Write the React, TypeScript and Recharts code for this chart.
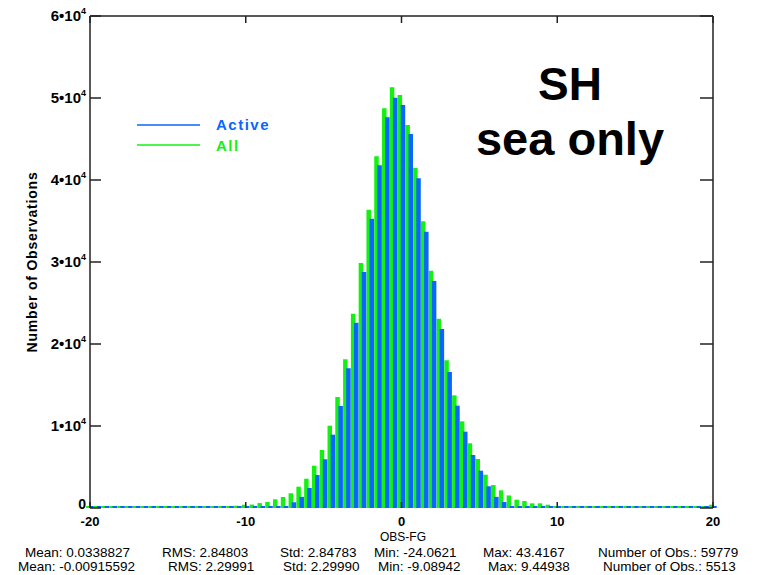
import { BarChart, Bar, XAxis, YAxis } from "recharts"

// histogram bins of OBS-FG, bin width 0.5
const binCenters = [
  -20, -19.5, -19, -18.5, -18, -17.5, -17, -16.5, -16, -15.5, -15, -14.5, -14, -13.5, -13, -12.5, -12,
  -11.5, -11, -10.5, -10, -9.5, -9, -8.5, -8, -7.5, -7, -6.5, -6, -5.5, -5, -4.5, -4, -3.5, -3, -2.5, -2,
  -1.5, -1, -0.5, 0, 0.5, 1, 1.5, 2, 2.5, 3, 3.5, 4, 4.5, 5, 5.5, 6, 6.5, 7, 7.5, 8, 8.5, 9, 9.5, 10,
  10.5, 11, 11.5, 12, 12.5, 13, 13.5, 14, 14.5, 15, 15.5, 16, 16.5, 17, 17.5, 18, 18.5, 19, 19.5, 20,
]

const allCounts = [
  0, 0, 0, 0, 0, 0, 0, 0, 0, 0, 0, 0, 0, 0, 0, 0, 0,
  250, 250, 280, 400, 420, 600, 730, 1060, 1340, 1800, 2600, 3570, 5160, 7070, 10040, 13540, 18130, 23700, 29880, 36380,
  42890, 48740, 51300, 50370, 46710, 41460, 34960, 28940, 23090, 18010, 13740, 10570, 7890, 5980, 4060, 2800, 2160, 1530, 1010, 850, 570, 570, 400, 250,
  250, 250, 250, 0, 0, 0, 0, 0, 0, 0, 0, 0, 0, 0, 0, 0, 0, 0, 0, 400,
]

const activeCounts = [
  0, 0, 0, 0, 0, 0, 0, 0, 0, 0, 0, 0, 0, 0, 0, 0, 0,
  0, 0, 0, 0, 0, 0, 0, 0, 250, 700, 1360, 2440, 4020, 5940, 8940, 12440, 17040, 22600, 28780, 35280,
  41790, 47650, 50040, 49150, 45610, 40210, 33700, 27680, 21830, 16590, 12480, 9310, 6460, 4550, 2650, 1360, 730, 200, 0, 0, 0, 0, 0, 0,
  0, 0, 0, 0, 0, 0, 0, 0, 0, 0, 0, 0, 0, 0, 0, 0, 0, 0, 0, 0,
]

const xTicks = [-20, -10, 0, 10, 20]
const yTicks = [0, 10000, 20000, 30000, 40000, 50000, 60000]

const statsAll = [
  { x: 25, text: "Mean: 0.0338827" },
  { x: 162, text: "RMS: 2.84803" },
  { x: 280, text: "Std: 2.84783" },
  { x: 374, text: "Min: -24.0621" },
  { x: 483, text: "Max: 43.4167" },
  { x: 598, text: "Number of Obs.: 59779" },
]
const statsActive = [
  { x: 18, text: "Mean: -0.00915592" },
  { x: 168, text: "RMS: 2.29991" },
  { x: 283, text: "Std: 2.29990" },
  { x: 378, text: "Min: -9.08942" },
  { x: 488, text: "Max: 9.44938" },
  { x: 603, text: "Number of Obs.: 5513" },
]

const BLUE = "#0a66ff"
const GREEN = "#14f014"
const AXIS = "#222"
const FONT = "'Liberation Sans', Arial, Helvetica, sans-serif"

// plot box (from the chart margins below)
const PLOT_W = 623
const PLOT_H = 492

const data = binCenters.map((x, i) => ({ x, all: allCounts[i], active: activeCounts[i] }))

// bottom tick: inward mark on bottom and top frame, plus label
function BottomTick(props: any) {
  const { x, y, payload } = props
  return (
    <g>
      <line x1={x} x2={x} y1={y} y2={y - 6} stroke={AXIS} strokeWidth={1.5} />
      <line x1={x} x2={x} y1={y - PLOT_H} y2={y - PLOT_H + 7} stroke={AXIS} strokeWidth={1.5} />
      <text x={x} y={y + 18} textAnchor="middle" fontSize={13} fontWeight="bold" fill="#000" fontFamily={FONT}>
        {payload.value}
      </text>
    </g>
  )
}

// left tick: inward mark on left and right frame, plus label
function LeftTick(props: any) {
  const { x, y, payload } = props
  const v = payload.value
  return (
    <g>
      <line x1={x} x2={x + 11} y1={y} y2={y} stroke={AXIS} strokeWidth={1.5} />
      <line x1={x + PLOT_W} x2={x + PLOT_W - 13} y1={y} y2={y} stroke={AXIS} strokeWidth={1.5} />
      <text
        x={x - 4}
        y={v === 0 ? y + 1 : y + 5}
        textAnchor="end"
        fontSize={v === 0 ? 14 : 15}
        fontWeight="bold"
        fill="#000"
        fontFamily={FONT}
      >
        {v === 0 ? "0" : `${v / 10000}•10`}
        {v === 0 ? null : (
          <tspan dy={-7} fontSize={9}>
            4
          </tspan>
        )}
      </text>
    </g>
  )
}

export default function App() {
  return (
    <div
      style={{
        position: "absolute",
        left: 0,
        top: 0,
        width: 768,
        height: 575,
        background: "#fff",
        fontFamily: FONT,
        overflow: "hidden",
      }}
    >
      <BarChart
        width={768}
        height={575}
        data={data}
        margin={{ top: 15, right: 54, bottom: 66, left: 89 }}
        barGap={-1.4}
        barCategoryGap={0}
      >
        <XAxis
          xAxisId="b"
          dataKey="x"
          type="number"
          domain={[-20, 20]}
          ticks={xTicks}
          interval={0}
          height={1}
          axisLine={false}
          tickLine={false}
          tickSize={0}
          tickMargin={0}
          tick={BottomTick}
        />
        <XAxis
          xAxisId="t"
          orientation="top"
          type="number"
          domain={[-20, 20]}
          ticks={xTicks}
          height={1}
          axisLine={{ stroke: AXIS, strokeWidth: 1.5 }}
          tickLine={false}
          tick={false}
        />
        <YAxis
          yAxisId="l"
          domain={[0, 60000]}
          ticks={yTicks}
          interval={0}
          width={1}
          axisLine={{ stroke: AXIS, strokeWidth: 1.5 }}
          tickLine={false}
          tickSize={0}
          tickMargin={0}
          tick={LeftTick}
        />
        <YAxis
          yAxisId="r"
          orientation="right"
          domain={[0, 60000]}
          ticks={yTicks}
          width={1}
          axisLine={{ stroke: AXIS, strokeWidth: 1.5 }}
          tickLine={false}
          tick={false}
        />
        <Bar xAxisId="b" yAxisId="l" dataKey="all" fill={GREEN} barSize={4.5} minPointSize={2} isAnimationActive={false} />
        <Bar xAxisId="b" yAxisId="l" dataKey="active" fill={BLUE} barSize={4.5} minPointSize={2} isAnimationActive={false} />
      </BarChart>

      <svg
        width={768}
        height={575}
        style={{ position: "absolute", left: 0, top: 0, pointerEvents: "none" }}
        fontFamily={FONT}
      >
        {/* legend */}
        <line x1={137} x2={200} y1={125} y2={125} stroke={BLUE} strokeWidth={1.5} />
        <text x={216} y={130} fontSize={15} fontWeight="bold" fill={BLUE} letterSpacing={1.5}>
          Active
        </text>
        <line x1={137} x2={200} y1={145} y2={145} stroke={GREEN} strokeWidth={1.5} />
        <text x={216} y={151} fontSize={15} fontWeight="bold" fill={GREEN} letterSpacing={1.5}>
          All
        </text>

        {/* region note */}
        <text x={570} y={100} textAnchor="middle" fontSize={46} fontWeight="bold" fill="#000">
          SH
        </text>
        <text x={570} y={155} textAnchor="middle" fontSize={47} fontWeight="bold" fill="#000">
          sea only
        </text>

        {/* axis titles */}
        <text
          x={37}
          y={262}
          transform="rotate(-90 37 262)"
          textAnchor="middle"
          fontSize={14}
          fontWeight="bold"
          letterSpacing={0.8}
          fill="#000"
        >
          Number of Observations
        </text>
        <text x={403} y={541} textAnchor="middle" fontSize={12} fill="#000">
          OBS-FG
        </text>

        {/* statistics */}
        {statsAll.map((s) => (
          <text key={"a" + s.x} x={s.x} y={557} fontSize={13.5} fill="#000">
            {s.text}
          </text>
        ))}
        {statsActive.map((s) => (
          <text key={"b" + s.x} x={s.x} y={571} fontSize={13.5} fill="#000">
            {s.text}
          </text>
        ))}
      </svg>
    </div>
  )
}
